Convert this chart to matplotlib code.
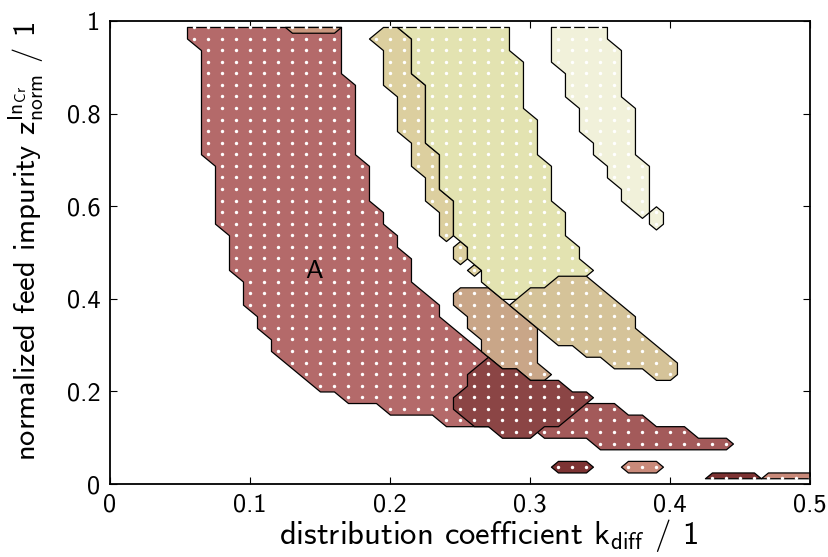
import numpy as np
import matplotlib
matplotlib.use('Agg')
import matplotlib.pyplot as plt

# grid of the computed points
k_grid = np.round(np.arange(0, 51) * 0.01, 2)
z_grid = 0.0125 + 0.025 * np.arange(40)

# each region: top row z, then k_diff range of every row going down
a_top = 0.9875
a_lo = [.06, .06, .07, .07, .07, .07, .07, .07, .07, .07, .07, .07, .08, .08, .08, .08, .08, .08,
        .09, .09, .09, .09, .10, .10, .10, .11, .11, .12, .12, .13, .14, .15, .17, .20, .24]
a_hi = [.16, .16, .16, .16, .16, .17, .17, .17, .17, .17, .17, .17, .18, .18, .18, .18, .19, .19,
        .20, .20, .21, .21, .21, .22, .23, .23, .24, .25, .26, .27, .28, .30, .31, .31, .30]

h_top = 0.9875
h_lo = [.13]
h_hi = [.16]

e_top = 0.1625
e_lo = [.33, .31, .31, .35]
e_hi = [.36, .38, .41, .44]

c_top = 0.4125
c_lo = [.25, .25, .26, .26, .27, .27, .28, .30]
c_hi = [.27, .28, .29, .30, .30, .30, .30, .31]

d_top = 0.2625
d_lo = [.27, .26, .26, .25, .25, .26, .28]
d_hi = [.27, .29, .32, .34, .33, .32, .30]

f1_top, f1_lo, f1_hi = 0.0375, [.32], [.34]
f2_top, f2_lo, f2_hi = 0.0375, [.37], [.39]
g1_top, g1_lo, g1_hi = 0.0125, [.43], [.46]
g2_top, g2_lo, g2_hi = 0.0125, [.47], [.50]

b1_top = 0.9875
b1_lo = [.20, .19, .20, .20, .20, .20, .21, .21, .21, .21, .22, .22, .22, .23, .23, .23, .24, .24, .24]
b1_hi = [.20, .21, .21, .21, .21, .22, .22, .22, .22, .22, .22, .23, .23, .23, .23, .24, .24, .24, .24]
b1b_top, b1b_lo, b1b_hi = 0.5125, [.25, .25], [.25, .25]
b1c_top, b1c_lo, b1c_hi = 0.4625, [.26], [.26]

b2_top = 0.9875
b2_lo = [.21, .22, .22, .22, .22, .23, .23, .23, .23, .23, .23, .24, .24, .24, .24, .25, .25, .25,
         .25, .26, .26, .27, .27, .28]
b2_hi = [.28, .28, .28, .29, .29, .29, .29, .29, .30, .30, .30, .30, .31, .31, .31, .31, .32, .32,
         .32, .33, .33, .34, .33, .32]

b3_top = 0.4375
b3_lo = [.32, .30, .29, .30, .31, .32, .34, .36, .39]
b3_hi = [.34, .35, .36, .37, .37, .38, .39, .40, .40]

b4_top = 0.9875
b4_lo = [.32, .32, .32, .32, .33, .33, .33, .34, .34, .34, .35, .35, .36, .36, .37, .37, .38]
b4_hi = [.35, .35, .36, .36, .36, .36, .36, .37, .37, .37, .37, .37, .38, .38, .38, .38, .38]
b4b_top, b4b_lo, b4b_hi = 0.5875, [.39, .39], [.39, .39]

regions = [
    (a_top, a_lo, a_hi, '#b46a6a'),
    (h_top, h_lo, h_hi, '#c9977e'),
    (e_top, e_lo, e_hi, '#a35a5a'),
    (c_top, c_lo, c_hi, '#c9a688'),
    (d_top, d_lo, d_hi, '#8b4545'),
    (f1_top, f1_lo, f1_hi, '#7d3333'),
    (f2_top, f2_lo, f2_hi, '#c98a7a'),
    (g1_top, g1_lo, g1_hi, '#7d3333'),
    (g2_top, g2_lo, g2_hi, '#c98a7a'),
    (b1_top, b1_lo, b1_hi, '#dccf9f'),
    (b1b_top, b1b_lo, b1b_hi, '#dccf9f'),
    (b1c_top, b1c_lo, b1c_hi, '#dccf9f'),
    (b2_top, b2_lo, b2_hi, '#e3e3b1'),
    (b3_top, b3_lo, b3_hi, '#d5c399'),
    (b4_top, b4_lo, b4_hi, '#f1f1da'),
    (b4b_top, b4b_lo, b4b_hi, '#f1f1da'),
]


def region_mask(z_top, lo, hi):
    m = np.zeros((len(z_grid), len(k_grid)))
    j0 = int(round((z_top - z_grid[0]) / 0.025))
    for i, (a, b) in enumerate(zip(lo, hi)):
        m[j0 - i] = (k_grid > a - 1e-6) & (k_grid < b + 1e-6)
    return m


# computer modern sans, shipped with matplotlib
plt.rcParams['font.family'] = ['cmss10', 'DejaVu Sans']
plt.rcParams['mathtext.fontset'] = 'custom'
plt.rcParams['mathtext.rm'] = 'cmss10'
plt.rcParams['mathtext.it'] = 'cmss10'
plt.rcParams['axes.unicode_minus'] = False

fig = plt.figure(figsize=(8.29, 5.57), dpi=100)
ax = fig.add_axes([0.1327, 0.131, 0.8443, 0.831])

K, Z = np.meshgrid(k_grid, z_grid)
for n, (top, lo, hi, col) in enumerate(regions):
    m = region_mask(top, lo, hi)
    cs = ax.contourf(k_grid, z_grid, m, levels=[0.5, 2], colors=[col], zorder=2 + n)
    cs.set_edgecolor('black')
    cs.set_linewidth(0.9)
    ax.scatter(K[m > 0], Z[m > 0], s=6, c='white', linewidths=0, zorder=2.5 + n)

ax.text(0.146, 0.46, 'A', fontsize=19, ha='center', va='center', zorder=40)

ax.set_xlim(0, 0.5)
ax.set_ylim(0, 1)
xticks = [0, 0.1, 0.2, 0.3, 0.4, 0.5]
yticks = [0, 0.2, 0.4, 0.6, 0.8, 1]
ax.set_xticks(xticks)
ax.set_xticklabels(['0', '0.1', '0.2', '0.3', '0.4', '0.5'])
ax.set_yticks(yticks)
ax.set_yticklabels(['0', '0.2', '0.4', '0.6', '0.8', '1'])
ax.tick_params(direction='in', top=True, right=True, length=5, width=0.8, labelsize=19, pad=7)
for s in ax.spines.values():
    s.set_linewidth(1.3)
    s.set_zorder(50)

ax.set_xlabel(r'distribution coefficient $\mathrm{k_{diff}}$ / 1', fontsize=23.5)
ax.set_ylabel(r'normalized feed impurity $\mathrm{z_{norm}^{In_{Cr}}}$ / 1', fontsize=22)
ax.xaxis.set_label_coords(0.54, -0.072)
ax.yaxis.set_label_coords(-0.092, 0.525)

fig.savefig('out.png', dpi=100)
